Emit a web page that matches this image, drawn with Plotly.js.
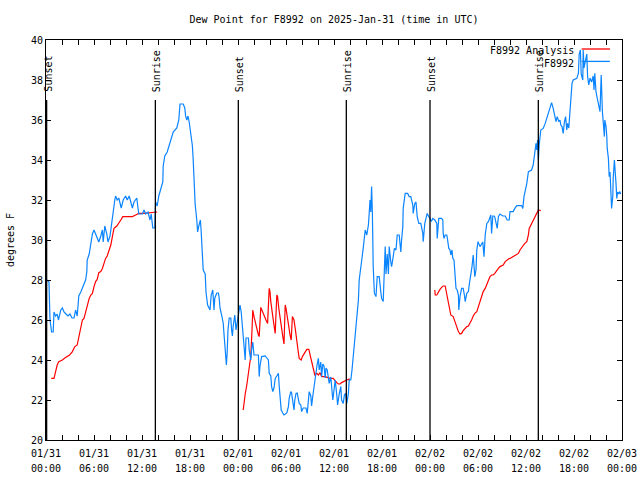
<!DOCTYPE html>
<html>
<head>
<meta charset="utf-8">
<script src="https://cdn.plot.ly/plotly-3.0.1.min.js"></script>
<style>html,body{margin:0;padding:0;background:#fff;}#chart{width:640px;height:480px;}</style>
</head>
<body>
<div id="chart"></div>
<script>
// Hours since 2025-01-31 00:00 UTC
const obsHours = [
0.12,0.37,0.5,0.7,0.9,1.0,1.2,1.4,1.55,1.85,
2.05,2.25,2.5,2.75,3.0,3.25,3.5,3.7,3.9,4.0,
4.1,4.35,4.65,4.95,5.1,5.15,5.4,5.6,5.8,6.0,
6.2,6.4,6.6,6.85,7.05,7.15,7.35,7.6,7.75,8.0,
8.15,8.4,8.6,8.7,8.9,9.1,9.4,9.65,9.95,10.15,
10.4,10.6,10.8,11.0,11.35,11.5,11.6,12.05,12.25,12.45,
12.75,13.0,13.15,13.35,13.6,13.7,13.9,14.1,14.4,14.6,
14.65,14.85,15.15,15.4,15.6,15.9,16.35,16.6,16.75,17.15,
17.35,17.45,17.6,17.75,17.9,18.1,18.3,18.4,18.5,18.65,
18.85,18.95,19.1,19.3,19.4,19.55,19.65,19.9,20.0,20.2,
20.5,20.65,20.85,21.0,21.1,21.35,21.55,21.65,21.75,21.95,
22.15,22.25,22.4,22.45,22.55,22.65,22.75,22.9,23.1,23.2,
23.3,23.4,23.6,23.75,23.9,24.05,24.15,24.25,24.4,24.6,
24.8,24.9,25.0,25.3,25.4,25.6,25.7,25.85,26.0,26.55,
26.65,26.75,26.95,27.4,27.6,27.8,27.9,28.1,28.2,28.35,
28.5,28.65,28.85,29.05,29.15,29.25,29.4,29.6,29.75,30.1,
30.3,30.4,30.6,30.7,30.85,31.0,31.1,31.25,31.4,31.55,
31.65,31.85,31.95,32.15,32.5,32.65,32.8,32.9,33.1,33.2,
33.35,33.5,33.6,33.75,33.9,34.05,34.15,34.35,34.45,34.6,
34.75,34.9,35.0,35.15,35.4,35.6,35.7,35.85,36.0,36.15,
36.35,36.45,36.65,36.85,36.95,37.15,37.3,37.45,37.6,37.8,
37.9,38.1,38.25,38.4,38.55,38.75,38.9,39.05,39.15,39.35,
39.5,39.65,39.8,39.9,40.1,40.3,40.4,40.5,40.6,40.7,
40.8,40.9,41.05,41.25,41.4,41.65,41.85,41.95,42.15,42.3,
42.4,42.5,42.65,42.8,42.9,43.1,43.2,43.4,43.55,43.75,
43.9,44.15,44.35,44.45,44.6,44.65,44.9,45.2,45.4,45.6,
45.85,45.9,46.1,46.25,46.4,46.6,46.85,47.1,47.15,47.35,
47.5,47.65,47.85,48.0,48.15,48.35,48.6,48.85,48.9,49.1,
49.45,49.6,49.65,49.75,49.9,50.1,50.2,50.35,50.5,50.6,
50.75,50.85,51.0,51.1,51.25,51.4,51.55,51.6,51.75,51.95,
52.15,52.3,52.4,52.6,52.8,52.9,53.1,53.25,53.4,53.6,
53.75,53.85,54.0,54.25,54.45,54.6,54.75,54.9,55.1,55.3,
55.6,55.7,55.85,56.0,56.1,56.25,56.4,56.55,56.75,57.1,
57.4,57.65,57.9,58.0,58.4,58.6,58.85,59.45,59.6,59.75,
59.9,60.1,60.3,60.7,60.9,61.0,61.15,61.25,61.35,61.45,
61.55,61.65,61.85,62.15,62.4,62.6,62.8,63.0,63.2,63.4,
63.6,63.75,63.9,64.1,64.25,64.35,64.5,64.65,64.8,64.95,
65.1,65.2,65.35,65.5,65.6,65.75,65.9,66.35,66.55,66.65,
66.8,66.9,67.1,67.15,67.25,67.4,67.6,67.7,67.85,68.0,
68.2,68.4,68.5,68.6,68.75,68.9,69.05,69.15,69.25,69.4,
69.45,69.55,69.65,69.8,69.85,70.0,70.1,70.15,70.3,70.4,
70.5,70.6,70.7,70.85,70.9,71.05,71.15,71.25,71.35,71.45,
71.6,71.7,71.85
];
const obsDewpt = [
28.0,27.9,26.0,25.4,25.4,26.4,26.2,26.3,26.0,26.5,
26.6,26.4,26.3,26.2,26.3,26.1,26.1,26.5,26.2,26.6,
27.2,27.4,27.7,28.0,28.4,29.0,29.3,29.9,30.3,30.5,
30.3,30.1,29.9,30.2,30.5,29.9,30.7,30.3,29.9,30.2,
30.7,31.5,32.0,32.2,32.0,32.1,31.6,32.0,32.2,32.0,
32.2,31.9,31.6,31.9,32.1,31.6,31.3,31.3,31.5,31.3,
31.4,31.0,31.3,30.6,30.6,31.9,31.7,32.2,32.6,32.9,
33.7,34.2,34.4,34.7,35.0,35.4,35.6,36.0,36.8,36.8,
36.6,36.2,36.0,36.2,35.9,35.2,34.7,34.0,32.75,31.75,
31.0,30.4,30.7,31.0,30.4,29.2,28.5,28.3,27.4,26.75,
26.5,27.25,27.5,26.5,27.1,27.35,27.35,27.1,26.6,26.25,
25.85,25.3,24.67,24.1,23.75,24.4,25.5,26.1,26.1,25.5,
25.2,25.7,26.25,25.5,25.8,26.25,26.5,26.75,26.4,25.5,
24.6,24.0,25.1,25.1,24.5,24.0,24.5,24.9,24.25,24.25,
23.17,23.7,24.17,24.2,24.1,24.0,23.33,23.2,22.67,22.42,
22.6,23.08,23.2,23.33,22.7,22.0,21.5,21.35,21.25,21.35,
21.67,22.1,22.42,22.35,21.8,21.5,22.0,22.33,22.35,22.1,
21.83,21.75,21.42,21.6,21.6,21.33,21.9,22.42,22.2,21.7,
22.2,22.67,22.8,23.33,23.8,24.08,23.5,23.9,23.17,23.8,
23.7,23.1,23.6,23.5,22.83,23.15,22.5,22.0,22.5,23.0,
22.25,21.75,22.3,22.67,22.0,21.83,22.25,22.33,21.83,22.33,
23.0,23.0,23.5,24.17,24.67,25.5,26.33,27.0,28.0,28.83,
29.1,29.58,30.17,30.5,30.25,30.75,31.33,32.0,31.4,32.67,
31.3,28.67,27.33,27.17,28.17,28.17,27.4,27.08,26.92,28.6,
29.67,28.3,29.3,28.3,29.67,28.9,28.67,29.17,29.58,29.5,
30.25,30.25,29.4,30.0,30.67,31.58,32.33,32.33,32.17,32.17,
31.75,31.33,31.83,31.9,31.17,30.83,30.83,30.33,29.92,30.83,
31.17,31.33,31.17,31.08,30.92,31.08,31.0,30.83,30.08,31.08,
31.08,31.0,30.33,30.08,30.25,30.25,30.0,29.58,29.5,29.25,
29.5,29.08,29.0,28.5,27.58,27.5,27.25,26.5,27.17,27.58,
27.58,27.25,26.92,27.33,27.42,27.75,28.17,28.67,29.25,28.17,
28.5,29.5,29.92,29.67,29.8,29.9,29.17,30.25,30.83,30.92,
31.25,30.33,31.2,31.2,31.15,30.83,30.58,31.17,31.3,31.2,
31.2,31.0,31.0,31.42,31.42,31.58,31.72,31.72,31.58,32.17,
32.42,32.83,33.42,33.5,33.75,34.17,34.58,34.83,34.5,35.0,
34.0,34.75,35.5,35.58,35.83,36.08,36.33,36.58,36.87,36.58,
36.25,35.92,36.17,35.92,36.0,35.75,35.67,35.33,35.9,36.17,
35.5,35.83,35.6,36.42,37.33,37.83,38.0,38.08,38.33,39.3,
39.5,38.3,38.0,39.5,38.6,39.0,39.3,38.17,37.75,38.1,
37.9,38.2,37.5,38.33,37.42,37.1,36.83,36.6,36.42,38.25,
37.2,36.42,35.92,35.17,36.0,35.7,35.17,34.58,34.08,33.17,
33.4,32.42,31.58,32.2,33.08,34.0,33.6,32.83,32.08,32.4,
32.3,32.42,32.3
];

// Analysis segments
const anaHours1 = [0.65,1.0,1.2,1.4,1.6,2.05,2.35,2.65,2.95,3.3,3.6,3.9,4.1,4.35,4.55,4.75,4.95,5.15,5.4,5.6,5.8,6.0,6.2,6.4,6.6,6.85,7.05,7.25,7.45,7.65,7.9,8.1,8.3,8.5,8.85,9.1,9.35,9.6,10.15,10.8,11.2,11.6,12.25,13.1,13.5,13.9];
const anaDewpt1 = [23.08,23.08,23.42,23.75,23.92,24.0,24.1,24.17,24.25,24.42,24.67,24.75,25.17,25.58,26.0,26.08,26.42,26.75,27.08,27.25,27.33,27.67,27.92,28.03,28.37,28.42,28.58,28.83,29.08,29.2,29.5,29.75,30.17,30.58,30.7,30.83,31.0,31.17,31.17,31.17,31.25,31.33,31.33,31.37,31.37,31.4];
const anaHours2 = [24.65,24.8,24.9,25.1,25.3,25.5,25.6,25.75,25.85,26.0,26.2,26.4,26.55,26.65,26.85,27.05,27.25,27.5,27.7,27.9,28.0,28.1,28.35,28.5,28.65,28.85,28.95,29.1,29.25,29.45,29.6,29.75,29.9,30.0,30.15,30.35,30.5,30.65,30.8,31.0,31.15,31.35,31.5,31.65,31.9,32.05,32.3,32.6,32.85,33.0,33.2,33.4,33.6,33.85,34.05,34.25,34.45,34.9,35.5,35.9,36.1,36.35,36.55,36.75,36.95,37.15,37.6,37.8,38.0];
const anaDewpt2 = [21.5,22.17,22.3,22.75,23.33,23.83,24.2,25.5,26.5,26.17,25.75,25.5,25.25,25.17,26.63,26.42,26.17,26.0,25.83,27.58,27.42,26.92,26.17,25.83,25.33,27.25,27.17,26.58,26.08,25.5,25.17,24.8,26.75,26.58,26.08,25.67,25.25,25.0,26.17,26.0,25.58,24.83,24.5,24.08,24.0,24.17,24.33,24.53,24.53,24.25,23.92,23.58,23.25,23.33,23.25,23.37,23.17,23.17,23.08,23.08,22.97,22.87,22.8,22.8,22.87,22.92,23.0,23.03,23.05];
const anaHours3 = [48.6,48.65,48.85,49.05,49.25,49.45,49.65,49.9,50.0,50.15,50.35,50.5,50.6,50.9,51.1,51.35,51.55,51.75,51.95,52.15,52.4,52.6,52.8,53.0,53.2,53.4,53.6,53.85,54.05,54.25,54.45,54.65,54.9,55.1,55.3,55.5,55.7,55.9,56.1,56.35,56.55,56.75,56.95,57.15,57.4,57.6,57.8,58.0,58.2,58.4,58.6,58.85,59.05,59.25,59.45,59.65,59.85,60.1,60.3,60.4,60.7,60.9,61.1,61.35,61.55,61.85];
const anaDewpt3 = [27.5,27.25,27.25,27.42,27.53,27.63,27.7,27.7,27.5,27.08,26.75,26.5,26.25,26.17,25.92,25.67,25.42,25.3,25.33,25.47,25.58,25.67,25.7,25.83,26.0,26.2,26.33,26.42,26.67,26.92,27.17,27.42,27.58,27.75,27.97,28.17,28.25,28.25,28.33,28.5,28.58,28.67,28.7,28.75,28.92,29.0,29.05,29.08,29.13,29.17,29.2,29.3,29.33,29.5,29.63,29.7,29.83,29.92,30.25,30.58,30.83,31.0,31.17,31.33,31.5,31.47];

const sunHours = [0.08, 13.67, 24.04, 37.54, 48.0, 61.54];
const sunLabels = ["Sunset","Sunrise","Sunset","Sunrise","Sunset","Sunrise"];
const sunLineTop = 37;

const tickHours = [0,6,12,18,24,30,36,42,48,54,60,66,72];
const tickDates = ["01/31","01/31","01/31","01/31","02/01","02/01","02/01","02/01","02/02","02/02","02/02","02/02","02/03"];
const tickTimes = ["00:00","06:00","12:00","18:00","00:00","06:00","12:00","18:00","00:00","06:00","12:00","18:00","00:00"];

const seriesNames = ["F8992 Analysis", "F8992"];
const seriesColors = ["#ff0000", "#0a84ff"];

const FONT = "DejaVu Sans Mono, Liberation Mono, monospace";

const anaX = anaHours1.concat([null], anaHours2, [null], anaHours3);
const anaY = anaDewpt1.concat([null], anaDewpt2, [null], anaDewpt3);

const traces = [
  {x: anaX, y: anaY, type: "scatter", mode: "lines", name: seriesNames[0],
   line: {color: seriesColors[0], width: 1.2}, connectgaps: false, hoverinfo: "skip"},
  {x: obsHours, y: obsDewpt, type: "scatter", mode: "lines", name: seriesNames[1],
   line: {color: seriesColors[1], width: 1.2}, hoverinfo: "skip"},
  // carrier for the second row of time labels (drawn invisibly)
  {x: obsHours, y: obsDewpt, xaxis: "x2", type: "scatter", mode: "lines", name: "time row",
   opacity: 0, line: {width: 0}, hoverinfo: "skip", showlegend: false}
];

const shapes = sunHours.map(h => ({
  type: "line", xref: "x", yref: "y", x0: h, x1: h, y0: 20, y1: sunLineTop,
  line: {color: "#000", width: 1.3}, layer: "above"
}));
const annotations = sunHours.map((h, i) => ({
  x: h, y: sunLineTop, xref: "x", yref: "y", text: sunLabels[i], showarrow: false,
  textangle: -90, xanchor: "center", yanchor: "bottom", yshift: 6, xshift: 1,
  font: {family: FONT, size: 10, color: "#000"}
}));

// gnuplot-style key (text on the left, sample line on the right)
const keyRowsY = [0.9735, 0.9425];
seriesNames.forEach((n, i) => {
  annotations.push({x: 0.92, y: keyRowsY[i], xref: "paper", yref: "paper", text: n,
    showarrow: false, xanchor: "right", yanchor: "middle",
    font: {family: FONT, size: 10, color: "#000"}});
  shapes.push({type: "line", xref: "paper", yref: "paper", x0: 0.930, x1: 0.979,
    y0: keyRowsY[i] + 0.004, y1: keyRowsY[i] + 0.004, line: {color: seriesColors[i], width: 1.3}});
});

const axisCommon = {
  range: [0, 72], tickmode: "array", tickvals: tickHours, showgrid: false, zeroline: false,
  tickfont: {family: FONT, size: 10, color: "#000"}, automargin: false
};

const layout = {
  width: 640, height: 480,
  margin: {l: 46, r: 18, t: 40, b: 40, pad: 0},
  paper_bgcolor: "#fff", plot_bgcolor: "#fff",
  showlegend: false,
  font: {family: FONT, size: 10, color: "#000"},
  title: {text: "Dew Point for F8992 on 2025-Jan-31 (time in UTC)", x: 0.5, xref: "paper",
          y: 0.96, yanchor: "middle", font: {family: FONT, size: 10, color: "#000"}},
  xaxis: Object.assign({}, axisCommon, {
          ticktext: tickDates, ticks: "inside", ticklen: 5, tickcolor: "#000",
          showline: true, linecolor: "#000", linewidth: 1, mirror: "ticks",
          ticklabelstandoff: 4,
          minor: {dtick: 2, tick0: 0, ticks: "inside", ticklen: 5, tickcolor: "#000", showgrid: false}}),
  xaxis2: Object.assign({}, axisCommon, {
          ticktext: tickTimes, overlaying: "x", side: "bottom", anchor: "y",
          ticks: "", showline: false, ticklabelstandoff: 21}),
  yaxis: {range: [20, 40], tickmode: "linear", tick0: 20, dtick: 2,
          ticks: "inside", ticklen: 5, tickcolor: "#000", showgrid: false, zeroline: false,
          showline: true, linecolor: "#000", linewidth: 1, mirror: "ticks",
          tickfont: {family: FONT, size: 10, color: "#000"}, automargin: false,
          title: {text: "degrees F", font: {family: FONT, size: 10, color: "#000"}, standoff: 14}},
  shapes: shapes,
  annotations: annotations
};

Plotly.newPlot("chart", traces, layout, {staticPlot: true, displayModeBar: false});
</script>
</body>
</html>
